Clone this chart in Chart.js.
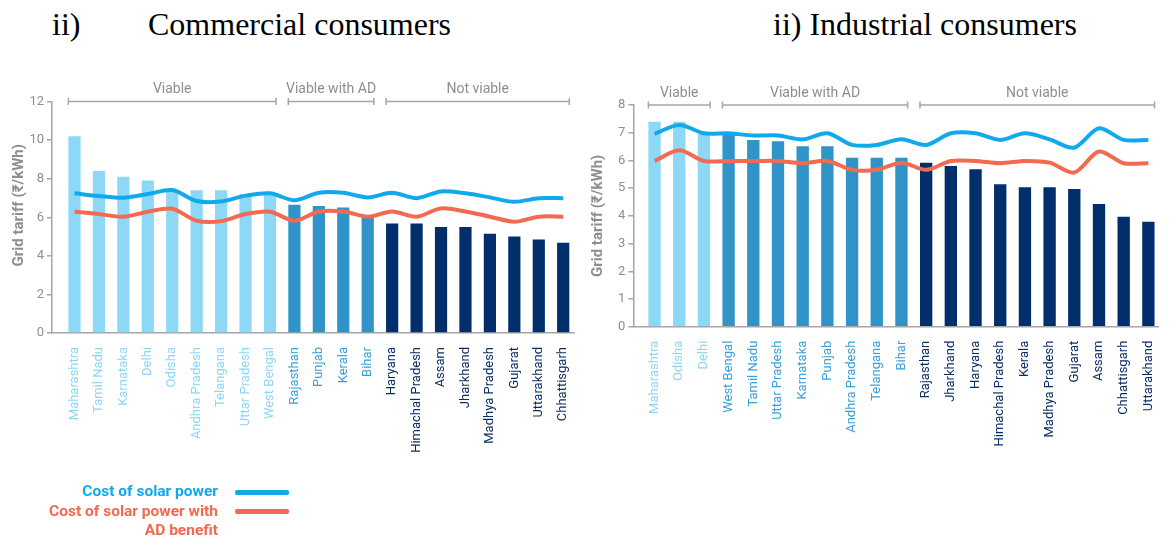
<!DOCTYPE html>
<html>
<head>
<meta charset="utf-8">
<script src="https://cdn.jsdelivr.net/npm/chart.js@4.4.1/dist/chart.umd.min.js"></script>
<style>
  html, body { margin:0; padding:0; background:#fff; }
  body { width:1170px; height:538px; position:relative; overflow:hidden; font-family: Roboto, "DejaVu Sans", sans-serif; }
  .hdr { position:absolute; font-family:"Liberation Serif","Times New Roman",serif; font-size:32px; line-height:32px; color:#000; top:8px; white-space:pre; }
  canvas { position:absolute; top:0; }
  .leg { position:absolute; font-weight:bold; font-size:15.5px; text-align:right; line-height:19px; font-family: Roboto, "DejaVu Sans", sans-serif; }
  .sw { position:absolute; height:5px; border-radius:2px; }
</style>
</head>
<body>
<div class="hdr" style="left:52px;">ii)</div>
<div class="hdr" style="left:148px;">Commercial consumers</div>
<div class="hdr" style="left:773px;">ii) Industrial consumers</div>
<canvas id="c1" width="585" height="538" style="left:0;width:585px;height:538px;"></canvas>
<canvas id="c2" width="585" height="538" style="left:585px;width:585px;height:538px;"></canvas>
<div class="leg" style="right:952px; top:482px; color:#12a9ec;">Cost of solar power</div>
<div class="sw" style="left:235px; width:54px; top:490px; background:#12a9ec;"></div>
<div class="leg" style="right:952px; top:502px; color:#f26a4f;">Cost of solar power with<br>AD benefit</div>
<div class="sw" style="left:235px; width:54px; top:509px; background:#f26a4f;"></div>
<script>
// ---------- DATA ----------
const groupNames = ['Viable', 'Viable with AD', 'Not viable'];

const commCats = ['Maharashtra','Tamil Nadu','Karnataka','Delhi','Odisha','Andhra Pradesh','Telangana','Uttar Pradesh','West Bengal','Rajasthan','Punjab','Kerala','Bihar','Haryana','Himachal Pradesh','Assam','Jharkhand','Madhya Pradesh','Gujarat','Uttarakhand','Chhattisgarh'];
const commTariff = [10.2,8.4,8.1,7.9,7.4,7.4,7.4,7.2,7.2,6.65,6.58,6.5,6.1,5.68,5.68,5.5,5.5,5.15,5.0,4.85,4.68];
const commSolar = [7.24,7.1,7.01,7.2,7.41,6.84,6.82,7.12,7.24,6.88,7.27,7.27,7.03,7.27,6.99,7.34,7.24,7.03,6.8,6.99,6.99];
const commSolarAD = [6.29,6.17,6.03,6.29,6.44,5.82,5.8,6.17,6.29,5.82,6.3,6.3,6.03,6.3,6.03,6.46,6.3,6.03,5.77,6.03,6.03];
const commGroup = [0,0,0,0,0,0,0,0,0,1,1,1,1,2,2,2,2,2,2,2,2];
const commYTicks = [0,2,4,6,8,10,12];

const indCats = ['Maharashtra','Odisha','Delhi','West Bengal','Tamil Nadu','Uttar Pradesh','Karnataka','Punjab','Andhra Pradesh','Telangana','Bihar','Rajasthan','Jharkhand','Haryana','Himachal Pradesh','Kerala','Madhya Pradesh','Gujarat','Assam','Chhattisgarh','Uttarakhand'];
const indTariff = [7.4,7.4,6.95,7.0,6.74,6.69,6.51,6.51,6.1,6.1,6.1,5.92,5.8,5.68,5.14,5.03,5.03,4.97,4.43,3.97,3.79];
const indSolar = [6.96,7.28,6.98,6.98,6.9,6.9,6.76,6.98,6.56,6.56,6.76,6.56,6.98,6.98,6.74,6.98,6.76,6.46,7.16,6.74,6.74];
const indSolarAD = [5.98,6.37,5.98,5.98,5.98,5.98,5.9,5.98,5.66,5.66,5.92,5.66,5.98,5.98,5.9,5.98,5.92,5.56,6.32,5.9,5.9];
const indGroup = [0,0,0,1,1,1,1,1,1,1,1,2,2,2,2,2,2,2,2,2,2];
const indYTicks = [0,1,2,3,4,5,6,7,8];

// ---------- STYLE ----------
const barColors = ['#8ed8f7', '#3194c8', '#002f6c'];
const labelColors = ['#8ed6f5', '#3a9fd6', '#0b2d66'];
const solarColor = '#12a9ec';
const adColor = '#f26a4f';
const axisGray = '#a6a6a6';
const textGray = '#8e8e8e';
const FONT = 'Roboto, "DejaVu Sans", sans-serif';

const bracketPlugin = {
  id: 'brackets',
  afterDraw(chart, args, opts) {
    const ctx = chart.ctx;
    const xs = chart.scales.x, ys = chart.scales.y;
    const meta = chart.getDatasetMeta(2);
    const groups = opts.groups;
    const y = ys.getPixelForValue(ys.max);
    ctx.save();
    ctx.strokeStyle = axisGray;
    ctx.lineWidth = 1.5;
    ctx.fillStyle = textGray;
    ctx.font = '14px ' + FONT;
    ctx.textAlign = 'center';
    ctx.textBaseline = 'middle';
    for (let g = 0; g < groupNames.length; g++) {
      const idx = groups.map((v, i) => v === g ? i : -1).filter(i => i >= 0);
      const a = idx[0], b = idx[idx.length - 1];
      const x0 = xs.getPixelForValue(a) - meta.data[a].width / 2;
      const x1 = xs.getPixelForValue(b) + meta.data[b].width / 2;
      ctx.beginPath();
      ctx.moveTo(x0, y); ctx.lineTo(x1, y);
      ctx.moveTo(x0, y - 3.5); ctx.lineTo(x0, y + 3.5);
      ctx.moveTo(x1, y - 3.5); ctx.lineTo(x1, y + 3.5);
      ctx.stroke();
      ctx.fillText(groupNames[g], (x0 + x1) / 2, y - 12);
    }
    // y title
    ctx.save();
    ctx.translate(opts.titleX, (ys.top + ys.bottom) / 2 + opts.titleDy);
    ctx.rotate(-Math.PI / 2);
    ctx.font = 'bold 15px ' + FONT;
    ctx.fillStyle = textGray;
    ctx.fillText('Grid tariff (₹/kWh)', 0, 0);
    ctx.restore();
    ctx.restore();
  }
};

function makeChart(id, cats, tariff, solar, solarAD, groups, yTicks, geo) {
  const pts = arr => arr.map((v, i) => ({ x: i, y: v }));
  return new Chart(document.getElementById(id), {
    type: 'bar',
    data: {
      datasets: [
        { type: 'line', label: 'Cost of solar power', data: pts(solar), borderColor: solarColor, borderWidth: 4, pointRadius: 0, tension: 0.3, order: 0 },
        { type: 'line', label: 'Cost of solar power with AD benefit', data: pts(solarAD), borderColor: adColor, borderWidth: 4, pointRadius: 0, tension: 0.3, order: 1 },
        { type: 'bar', label: 'Grid tariff', data: pts(tariff), backgroundColor: groups.map(g => barColors[g]), barPercentage: 0.5, categoryPercentage: 1, order: 2 }
      ]
    },
    options: {
      responsive: false,
      animation: false,
      layout: { padding: geo.padding },
      plugins: { legend: { display: false }, tooltip: { enabled: false }, brackets: { groups: groups, titleX: geo.titleX, titleDy: geo.titleDy } },
      scales: {
        x: {
          type: 'linear', min: geo.xMin, max: geo.xMax, offset: false,
          afterBuildTicks: s => { s.ticks = cats.map((_, i) => ({ value: i })); },
          afterFit: s => { s.height = geo.xHeight; },
          grid: { display: false },
          border: { display: true, color: axisGray, width: 1.5 },
          ticks: {
            autoSkip: false, maxRotation: 90, minRotation: 90, padding: 6,
            font: { family: FONT, size: 13 },
            color: c => labelColors[groups[c.index]],
            callback: v => cats[v]
          }
        },
        y: {
          min: yTicks[0], max: yTicks[yTicks.length - 1],
          afterBuildTicks: s => { s.ticks = yTicks.map(v => ({ value: v })); },
          afterFit: s => { s.width = geo.yWidth; },
          grid: { display: true, drawOnChartArea: false, drawTicks: true, tickLength: 5, color: axisGray, lineWidth: 1.5 },
          border: { display: true, color: axisGray, width: 1.5 },
          ticks: { font: { family: FONT, size: 13 }, color: textGray, padding: 3 }
        }
      }
    },
    plugins: [bracketPlugin]
  });
}

makeChart('c1', commCats, commTariff, commSolar, commSolarAD, commGroup, commYTicks,
  { padding: { left: 0, top: 101.5, right: 8.5, bottom: 0 }, yWidth: 52, xHeight: 205, xMin: -0.92, xMax: 20.48, titleX: 19, titleDy: -12 });
makeChart('c2', indCats, indTariff, indSolar, indSolarAD, indGroup, indYTicks,
  { padding: { left: 0, top: 105, right: 1.5, bottom: 0 }, yWidth: 48.3, xHeight: 211.3, xMin: -0.86, xMax: 20.4, titleX: 13, titleDy: 0 });
</script>
</body>
</html>
